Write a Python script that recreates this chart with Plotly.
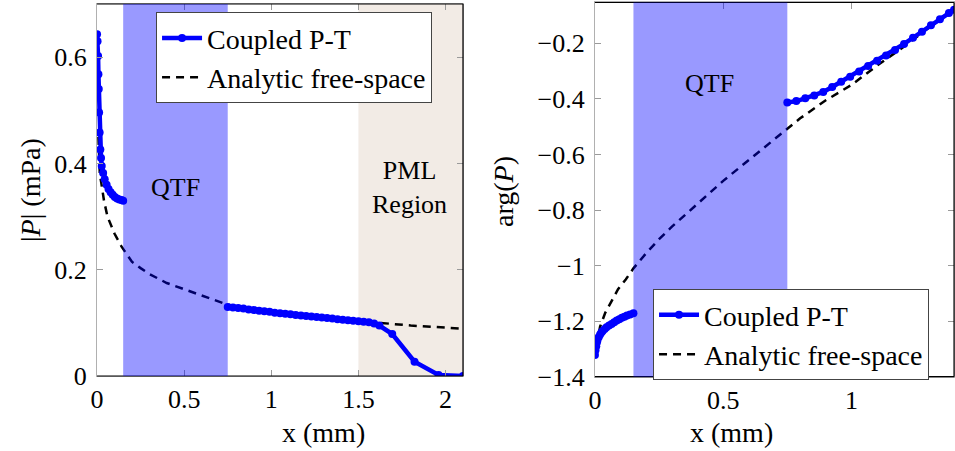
import plotly.graph_objects as go

# ---------------- Left panel: |P| (mPa) ----------------
abs_coupled_x = [0.0, 0.003, 0.006, 0.008, 0.010, 0.012, 0.015, 0.019, 0.023, 0.027, 0.035, 0.044, 0.055,
                 0.066, 0.078, 0.09, 0.102, 0.115, 0.128, 0.14, 0.15,
                 None,
                 0.75, 0.78, 0.81, 0.84, 0.87, 0.90, 0.93, 0.96, 0.99, 1.02, 1.05, 1.08, 1.11, 1.14,
                 1.17, 1.20, 1.23, 1.26, 1.29, 1.32, 1.35, 1.38, 1.41, 1.44, 1.47, 1.50, 1.53,
                 1.56, 1.59, 1.62, 1.694, 1.822, 1.96, 2.1]
abs_coupled_y = [0.643, 0.630, 0.602, 0.568, 0.540, 0.496, 0.458, 0.426, 0.41, 0.395, 0.382, 0.370, 0.360,
                 0.352, 0.346, 0.341, 0.337, 0.334, 0.332, 0.331, 0.330,
                 None,
                 0.130, 0.129, 0.128, 0.127, 0.125, 0.124, 0.123, 0.122, 0.121, 0.119, 0.118, 0.117, 0.116, 0.115,
                 0.114, 0.113, 0.112, 0.111, 0.110, 0.109, 0.108, 0.107, 0.106, 0.105, 0.104, 0.103, 0.102,
                 0.101, 0.099, 0.095, 0.079, 0.027, 0.002, 0.0]

abs_analytic_x = [0.008, 0.016, 0.025, 0.04, 0.06, 0.08, 0.1, 0.14, 0.2, 0.25, 0.3, 0.4, 0.5, 0.6,
                  0.75, 0.9, 1.0, 1.2, 1.4, 1.6, 1.8, 2.0, 2.1]
abs_analytic_y = [0.45, 0.38, 0.362, 0.33, 0.30, 0.283, 0.268, 0.244, 0.215, 0.203, 0.192, 0.175, 0.163,
                  0.152, 0.134, 0.126, 0.120, 0.112, 0.106, 0.100, 0.095, 0.091, 0.089]

# ---------------- Right panel: arg(P) ----------------
arg_coupled_x = [0.0, 0.002, 0.005, 0.008, 0.01, 0.015, 0.02, 0.025, 0.03, 0.038, 0.045, 0.055, 0.065,
                 0.075, 0.085, 0.095, 0.105, 0.115, 0.125, 0.137, 0.15,
                 None,
                 0.75, 0.785, 0.82, 0.855, 0.89, 0.925, 0.96, 0.995, 1.03, 1.065, 1.1, 1.135,
                 1.17, 1.205, 1.24, 1.275, 1.31, 1.345, 1.38, 1.4]
arg_coupled_y = [-1.322, -1.305, -1.29, -1.276, -1.268, -1.257, -1.248, -1.241, -1.235, -1.228, -1.222,
                 -1.216, -1.210, -1.204, -1.198, -1.193, -1.188, -1.184, -1.180, -1.176, -1.172,
                 None,
                 -0.413, -0.408, -0.398, -0.388, -0.375, -0.357, -0.338, -0.320, -0.301, -0.282, -0.263,
                 -0.244, -0.224, -0.202, -0.180, -0.158, -0.135, -0.113, -0.091, -0.079]

arg_analytic_x = [0.005, 0.02, 0.04, 0.065, 0.09, 0.12, 0.15, 0.2, 0.25, 0.3, 0.4, 0.5, 0.6, 0.7, 0.8,
                  0.9, 1.0, 1.1, 1.2, 1.3, 1.4]
arg_analytic_y = [-1.29, -1.22, -1.17, -1.13, -1.085, -1.05, -1.01, -0.955, -0.905, -0.86, -0.776,
                  -0.695, -0.62, -0.545, -0.47, -0.405, -0.35, -0.28, -0.215, -0.145, -0.08]

left_xticks = [0, 0.5, 1, 1.5, 2]
left_xticktext = ["0", "0.5", "1", "1.5", "2"]
left_yticks = [0, 0.2, 0.4, 0.6]
left_yticktext = ["0", "0.2", "0.4", "0.6"]
right_xticks = [0, 0.5, 1]
right_xticktext = ["0", "0.5", "1"]
right_yticks = [-1.4, -1.2, -1.0, -0.8, -0.6, -0.4, -0.2]
right_yticktext = ["\u22121.4", "\u22121.2", "\u22121", "\u22120.8", "\u22120.6", "\u22120.4", "\u22120.2"]

FONT = "Liberation Serif"
BLUE = "#0000ff"

fig = go.Figure()

line_style = dict(color=BLUE, width=4.5)
marker_style = dict(color=BLUE, size=8, symbol="circle")
dash_style = dict(color="black", width=2.5, dash="8px,6px")

fig.add_trace(go.Scatter(x=abs_analytic_x, y=abs_analytic_y, mode="lines", line=dash_style,
                         name="Analytic free-space", xaxis="x", yaxis="y", legend="legend",
                         legendrank=2))
fig.add_trace(go.Scatter(x=abs_coupled_x, y=abs_coupled_y, mode="lines+markers", line=line_style,
                         marker=marker_style, name="Coupled P-T", xaxis="x", yaxis="y",
                         legend="legend", connectgaps=False, legendrank=1))
fig.add_trace(go.Scatter(x=arg_analytic_x, y=arg_analytic_y, mode="lines", line=dash_style,
                         name="Analytic free-space", xaxis="x2", yaxis="y2", legend="legend2",
                         legendrank=2))
fig.add_trace(go.Scatter(x=arg_coupled_x, y=arg_coupled_y, mode="lines+markers", line=line_style,
                         marker=marker_style, name="Coupled P-T", xaxis="x2", yaxis="y2",
                         legend="legend2", connectgaps=False, legendrank=1))

axis_common = dict(showgrid=False, zeroline=False, showline=True, linecolor="#b0b0b0", linewidth=1.2,
                   mirror="ticks", ticks="inside", ticklen=6, tickcolor="#9a9a9a", tickwidth=1,
                   automargin=False,
                   tickfont=dict(family=FONT, size=26, color="black"))

fig.update_layout(
    width=955, height=451,
    margin=dict(l=0, r=0, t=0, b=0, autoexpand=False),
    paper_bgcolor="white", plot_bgcolor="white",
    font=dict(family=FONT, size=26, color="black"),
    xaxis=dict(domain=[0.1016, 0.4848], range=[0, 2.1], tickvals=left_xticks, ticktext=left_xticktext,
               anchor="y", **axis_common),
    yaxis=dict(domain=[0.1663, 0.9911], range=[0, 0.7], tickvals=left_yticks, ticktext=left_yticktext,
               anchor="x", ticklabelstandoff=4, **axis_common),
    xaxis2=dict(domain=[0.6230, 0.999], range=[0, 1.4], tickvals=right_xticks, ticktext=right_xticktext,
                anchor="y2", **axis_common),
    yaxis2=dict(domain=[0.1647, 0.9945], range=[-1.4, -0.053], tickvals=right_yticks,
                ticktext=right_yticktext, anchor="x2", ticklabelstandoff=4, **axis_common),
    showlegend=True,
    legend=dict(x=0.1634, y=0.973, xanchor="left", yanchor="top", bgcolor="white",
                bordercolor="#444444", borderwidth=1, itemwidth=40, tracegroupgap=0,
                font=dict(family=FONT, size=28, color="black")),
    legend2=dict(x=0.6838, y=0.359, xanchor="left", yanchor="top", bgcolor="white",
                 bordercolor="#444444", borderwidth=1, itemwidth=40, tracegroupgap=0,
                 font=dict(family=FONT, size=28, color="black")),
)

shapes = []
# PML region (below traces)
shapes.append(dict(type="rect", xref="x", yref="y domain", x0=1.5, x1=2.1, y0=0, y1=1,
                   fillcolor="#f2ebe5", line=dict(width=0), layer="below"))
# Frame lines (black on top, bottom, right)
for xr, yr in (("x domain", "y domain"), ("x2 domain", "y2 domain")):
    shapes.append(dict(type="line", xref=xr, yref=yr, x0=0, x1=1, y0=1, y1=1,
                       line=dict(color="black", width=1.2), layer="above"))
    shapes.append(dict(type="line", xref=xr, yref=yr, x0=0, x1=1, y0=0, y1=0,
                       line=dict(color="black", width=1.2), layer="above"))
    shapes.append(dict(type="line", xref=xr, yref=yr, x0=1, x1=1, y0=0, y1=1,
                       line=dict(color="black", width=1.2), layer="above"))
# QTF regions (semi-transparent blue on top)
shapes.append(dict(type="rect", xref="x", yref="y domain", x0=0.15, x1=0.75, y0=0, y1=1,
                   fillcolor="rgba(0,0,255,0.4)", line=dict(width=0), layer="above"))
shapes.append(dict(type="rect", xref="x2", yref="y2 domain", x0=0.15, x1=0.75, y0=0, y1=1,
                   fillcolor="rgba(0,0,255,0.4)", line=dict(width=0), layer="above"))
fig.update_layout(shapes=shapes)

ann_font = dict(family=FONT, size=26, color="black")
title_font = dict(family=FONT, size=28, color="black")
annotations = [
    dict(x=0.448, y=0.355, xref="x", yref="y", text="QTF", showarrow=False, font=ann_font),
    dict(x=1.795, y=0.355, xref="x", yref="y", text="PML<br>Region", showarrow=False, font=ann_font),
    dict(x=0.445, y=-0.346, xref="x2", yref="y2", text="QTF", showarrow=False, font=ann_font),
    dict(x=280 / 955, y=1 - 432 / 451, xref="paper", yref="paper", text="x (mm)", showarrow=False,
         font=title_font, yanchor="middle"),
    dict(x=775 / 955, y=1 - 432 / 451, xref="paper", yref="paper", text="x (mm)", showarrow=False,
         font=title_font, yanchor="middle"),
    dict(x=30 / 955, y=1 - 190 / 451, xref="paper", yref="paper", text="|<i>P</i>| (mPa)",
         showarrow=False, font=title_font, textangle=-90, xanchor="center", yanchor="middle"),
    dict(x=503 / 955, y=1 - 192 / 451, xref="paper", yref="paper", text="arg(<i>P</i>)",
         showarrow=False, font=title_font, textangle=-90, xanchor="center", yanchor="middle"),
]
fig.update_layout(annotations=annotations)

fig.write_html("out.html", config={"displayModeBar": False},
               post_script="document.body.style.margin='0';document.body.style.overflow='hidden';")
